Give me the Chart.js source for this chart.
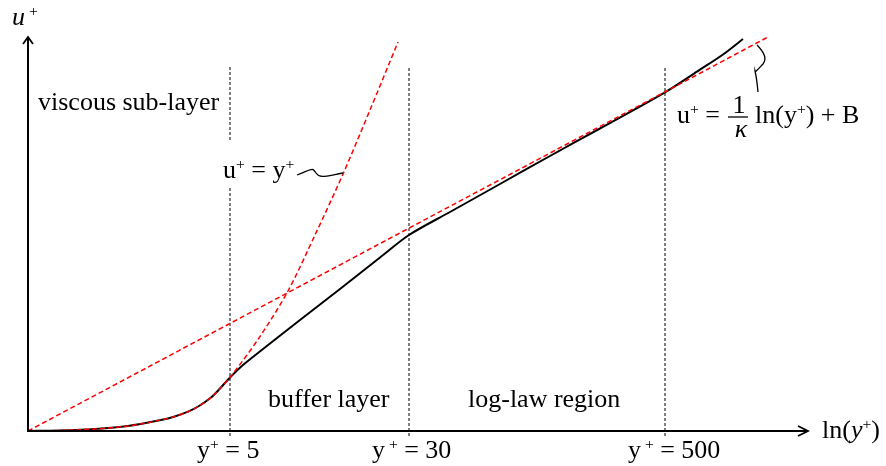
<!DOCTYPE html>
<html><head><meta charset="utf-8">
<script src="https://cdn.jsdelivr.net/npm/chart.js@4/dist/chart.umd.min.js"></script>
<style>html,body{margin:0;padding:0;background:#fff}#wrap{width:886px;height:466px}</style>
</head><body><div id="wrap"><canvas id="c" width="886" height="466"></canvas></div>
<script>
// schematic units: x ~ ln(y+) (arbitrary scale), y ~ u+ (arbitrary scale)
const profileX = [0, 32, 67, 100, 133, 146, 160, 171, 183, 192, 202, 215, 235, 272, 312, 352, 381, 422, 472, 522, 572, 637, 672, 695, 715];
const profileY = [0, 0.5, 2, 5, 11, 14.2, 19.3, 25, 33.5, 42.5, 53.5, 66, 82, 111, 142, 173.5, 196, 219, 247, 275, 302.5, 338.6, 361.3, 376.5, 392];
const viscousX = [0, 32, 67, 100, 133, 146, 160, 171, 183, 192, 202, 231, 260, 287, 315, 342, 370];
const viscousY = [0, 0.5, 2, 5, 11, 14.2, 19.3, 25, 33.5, 42.5, 53.5, 93, 140, 196, 257, 321, 389];
const logLawX = [0, 740];
const logLawY = [0, 394];
const markerX = [202, 381, 637];
const markerLabels = ['5', '30', '500'];
const markerTop = 364, markerBottom = -5;
const regionLabels = ['viscous sub-layer', 'buffer layer', 'log-law region'];

const FONT = '"Liberation Serif", "Times New Roman", serif';
const SIZE = 26;

function pts(xs, ys) { return xs.map((x, i) => ({x: x, y: ys[i]})); }

const markerSets = markerX.map((mx, i) => {
  let data;
  if (i === 0) data = [{x: mx, y: markerBottom}, {x: mx, y: 243}, {x: mx, y: null}, {x: mx, y: 291}, {x: mx, y: markerTop}];
  else data = [{x: mx, y: markerBottom}, {x: mx, y: markerTop}];
  return {data, borderColor: '#000', borderWidth: 1, borderDash: [3, 2], pointRadius: 0, clip: false, order: 3, spanGaps: false};
});

function rich(ctx, x, y, parts, size) {
  let cx = x;
  for (const p of parts) {
    const s = p.sup ? size * 0.6 : size;
    ctx.font = (p.i ? 'italic ' : '') + s + 'px ' + FONT;
    const dy = p.sup ? -size * 0.36 : 0;
    ctx.fillText(p.t, cx, y + dy);
    cx += ctx.measureText(p.t).width;
  }
  return cx - x;
}

const decor = {
  id: 'decor',
  afterDatasetsDraw(chart) {
    const ctx = chart.ctx, xs = chart.scales.x, ys = chart.scales.y;
    const P = (x, y) => [xs.getPixelForValue(x), ys.getPixelForValue(y)];
    const [ox, oy] = P(0, 0);
    const right = chart.chartArea.right, top = chart.chartArea.top;
    ctx.save();
    ctx.strokeStyle = '#000'; ctx.lineWidth = 2; ctx.lineCap = 'butt';
    ctx.beginPath(); ctx.moveTo(ox - 1, oy); ctx.lineTo(right, oy); ctx.stroke();
    ctx.beginPath(); ctx.moveTo(ox, oy + 1); ctx.lineTo(ox, top); ctx.stroke();
    ctx.lineWidth = 1.8; ctx.lineJoin = 'miter';
    ctx.beginPath(); ctx.moveTo(right - 10, oy - 5); ctx.lineTo(right, oy); ctx.lineTo(right - 10, oy + 5); ctx.stroke();
    ctx.beginPath(); ctx.moveTo(ox - 5, top + 7); ctx.lineTo(ox, top); ctx.lineTo(ox + 5, top + 7); ctx.stroke();

    // leaders
    ctx.lineWidth = 1.3;
    let a = P(269, 256), b = P(285, 262), c = P(288, 258), d = P(292, 252), e = P(298, 255), f = P(315, 258);
    ctx.beginPath(); ctx.moveTo(a[0], a[1]);
    ctx.bezierCurveTo(b[0], b[1], P(284, 262)[0], P(283, 264)[1], c[0], c[1]);
    ctx.bezierCurveTo(d[0], d[1], e[0], e[1], f[0], f[1]);
    ctx.stroke();
    a = P(729, 386); b = P(737, 378); c = P(735, 367); d = P(727, 360); e = P(729, 350); f = P(730, 339);
    ctx.beginPath(); ctx.moveTo(a[0], a[1]);
    ctx.bezierCurveTo(b[0], b[1], P(739, 372)[0], P(739, 372)[1], c[0], c[1]);
    ctx.bezierCurveTo(P(732, 364)[0], P(732, 364)[1], d[0], d[1] + 2, d[0], d[1]);
    ctx.bezierCurveTo(P(728, 356)[0], P(728, 356)[1], e[0], e[1], f[0], f[1]);
    ctx.stroke();

    // text
    ctx.fillStyle = '#000'; ctx.textBaseline = 'alphabetic'; ctx.textAlign = 'left';
    let q = P(10, 321); rich(ctx, q[0], q[1], [{t: regionLabels[0]}], SIZE);
    q = P(240, 24); rich(ctx, q[0], q[1], [{t: regionLabels[1]}], SIZE);
    q = P(440, 24); rich(ctx, q[0], q[1], [{t: regionLabels[2]}], SIZE);
    q = P(195, 253); rich(ctx, q[0], q[1], [{t: 'u'}, {t: '+', sup: true}, {t: ' = y'}, {t: '+', sup: true}], SIZE);
    const tickLeft = [169, 344, 600];
    markerLabels.forEach((lab, i) => {
      const p = P(tickLeft[i], -27);
      rich(ctx, p[0], p[1], [{t: 'y'}, {t: i === 0 ? '+' : ' +', sup: true}, {t: ' = ' + lab}], SIZE);
    });
    q = P(794, -7); rich(ctx, q[0], q[1], [{t: 'ln('}, {t: 'y', i: true}, {t: '+', sup: true}, {t: ')'}], SIZE);
    q = P(-16, 406); rich(ctx, q[0], q[1], [{t: 'u', i: true}, {t: ' +', sup: true}], SIZE);
    // log-law formula
    q = P(649, 308); rich(ctx, q[0], q[1], [{t: 'u'}, {t: '+', sup: true}, {t: ' ='}], SIZE);
    ctx.textAlign = 'center';
    q = P(711, 318); ctx.font = SIZE + 'px ' + FONT; ctx.fillText('1', q[0], q[1]);
    q = P(713, 294); ctx.font = 'italic ' + SIZE + 'px ' + FONT; ctx.fillText('κ', q[0], q[1]);
    ctx.textAlign = 'left';
    const b1 = P(700, 314), b2 = P(720, 314);
    ctx.lineWidth = 1.3; ctx.beginPath(); ctx.moveTo(b1[0], b1[1]); ctx.lineTo(b2[0], b2[1]); ctx.stroke();
    q = P(727, 308); rich(ctx, q[0], q[1], [{t: 'ln(y'}, {t: '+', sup: true}, {t: ') + B'}], SIZE);
    ctx.restore();
  }
};

new Chart(document.getElementById('c'), {
  type: 'line',
  data: {
    datasets: [
      {data: pts(logLawX, logLawY), borderColor: 'red', borderWidth: 1.5, borderDash: [5, 3], pointRadius: 0, order: 0, clip: false},
      {data: pts(viscousX, viscousY), borderColor: 'red', borderWidth: 1.5, borderDash: [5, 3], pointRadius: 0, order: 1, tension: 0.3, clip: false},
      {data: pts(profileX, profileY), borderColor: '#000', borderWidth: 2, pointRadius: 0, order: 2, tension: 0.3, clip: false},
      ...markerSets
    ]
  },
  options: {
    responsive: false, animation: false, devicePixelRatio: 1,
    layout: {padding: {left: 28, right: 78, top: 37, bottom: 35}},
    plugins: {legend: {display: false}, tooltip: {enabled: false}},
    scales: {
      x: {type: 'linear', min: 0, max: 780, display: false},
      y: {type: 'linear', min: 0, max: 394, display: false}
    }
  },
  plugins: [decor]
});
</script></body></html>
